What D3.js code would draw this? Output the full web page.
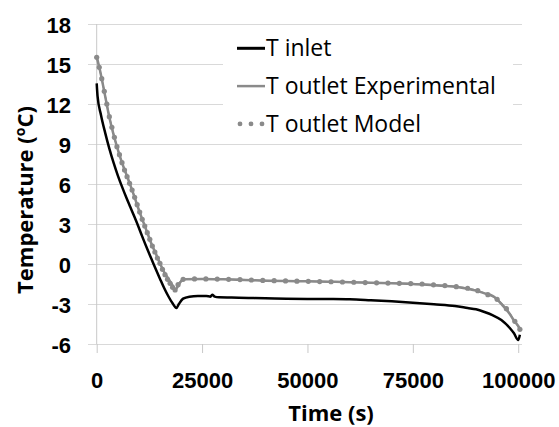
<!DOCTYPE html>
<html lang="en">
<head>
<meta charset="utf-8" />
<script src="https://cdn.jsdelivr.net/npm/d3@7"></script>
<style>
  body { margin: 0; background: #fff; }
  svg { display: block; font-family: 'Open Sans', sans-serif; }
  .tick-label { font-size: 22px; font-weight: bold; fill: #000; }
  .axis-title { font-size: 22px; font-weight: bold; fill: #000; }
  .legend text { font-size: 23px; fill: #000; }
</style>
</head>
<body>
<div id="chart"></div>
<script>
// T inlet
var inletTime = [0, 200, 1000, 2000, 3000, 4000, 5000, 6000, 7000, 8000, 9000, 10000, 11000, 12000, 13000, 14000, 15000, 16000, 17000, 18000, 18900, 19500, 20500, 22000, 24000, 26000, 27000, 27400, 28000, 29000, 32000, 36000, 40000, 45000, 50000, 55000, 60000, 65000, 70000, 75000, 80000, 85000, 88000, 90000, 92000, 94000, 96000, 98000, 99000, 100000, 100400];
var inletTemp = [13.55, 12.6, 11.2, 9.85, 8.65, 7.6, 6.65, 5.8, 5.0, 4.25, 3.5, 2.72, 1.9, 1.12, 0.37, -0.38, -1.1, -1.8, -2.42, -2.95, -3.3, -3.0, -2.6, -2.45, -2.4, -2.4, -2.45, -2.3, -2.45, -2.5, -2.52, -2.55, -2.57, -2.6, -2.62, -2.63, -2.65, -2.72, -2.8, -2.9, -3.02, -3.15, -3.3, -3.4, -3.6, -3.85, -4.2, -4.8, -5.2, -5.7, -5.3];

// T outlet experimental
var expTime = [0, 1000, 2000, 3000, 4000, 5000, 6000, 7000, 8000, 9000, 10000, 11000, 12000, 13000, 14000, 15000, 16000, 17000, 18000, 18600, 19200, 20000, 21000, 25000, 30000, 35000, 40000, 45000, 50000, 55000, 60000, 65000, 70000, 75000, 80000, 85000, 88000, 90000, 92000, 94000, 95000, 96000, 97000, 98000, 99000, 100000, 100500];
var expTemp = [15.55, 14.2, 12.6, 11.0, 9.7, 8.6, 7.6, 6.75, 5.9, 5.0, 4.05, 3.2, 2.35, 1.5, 0.8, 0.05, -0.6, -1.1, -1.6, -1.95, -1.7, -1.3, -1.15, -1.12, -1.15, -1.2, -1.25, -1.28, -1.3, -1.33, -1.36, -1.4, -1.45, -1.5, -1.6, -1.7, -1.85, -2.0, -2.2, -2.4, -2.65, -3.0, -3.35, -3.75, -4.25, -4.65, -4.95];

// T outlet model
var modelTime = [0, 600, 1200, 1800, 2400, 3000, 3600, 4200, 4800, 5400, 6000, 6600, 7200, 7800, 8400, 9000, 9600, 10200, 10800, 11400, 12000, 12600, 13200, 13800, 14400, 15000, 15600, 16200, 16800, 17400, 18000, 18600, 19300, 20500, 23200, 25900, 28600, 31300, 34000, 36700, 39400, 42100, 44800, 47500, 50200, 52900, 55600, 58300, 61000, 63700, 66400, 69100, 71800, 74500, 77200, 79900, 82600, 85300, 88000, 90400, 92800, 95000, 97200, 99200, 100400];
var modelTemp = [15.5, 14.75, 13.9, 12.95, 12.0, 11.05, 10.25, 9.5, 8.8, 8.2, 7.6, 7.05, 6.55, 6.05, 5.55, 5.0, 4.45, 3.9, 3.35, 2.85, 2.35, 1.85, 1.35, 0.9, 0.45, 0.05, -0.4, -0.8, -1.15, -1.45, -1.75, -1.95, -1.55, -1.15, -1.12, -1.12, -1.13, -1.15, -1.17, -1.2, -1.23, -1.25, -1.27, -1.29, -1.3, -1.32, -1.33, -1.35, -1.37, -1.39, -1.41, -1.43, -1.45, -1.47, -1.5, -1.56, -1.62, -1.7, -1.82, -2.0, -2.3, -2.65, -3.35, -4.3, -4.9];

var xTicks = [0, 25000, 50000, 75000, 100000];
var yTicks = [-6, -3, 0, 3, 6, 9, 12, 15, 18];
var seriesNames = ['T inlet', 'T outlet Experimental', 'T outlet Model'];

var width = 559, height = 427;
var plotLeft = 88, plotRight = 522, plotTop = 24, plotBottom = 344;
var gray = '#8a8a8a';

var svg = d3.select('#chart').append('svg')
  .attr('width', width)
  .attr('height', height);

var x = d3.scaleLinear().domain([0, 100900]).range([96.7, plotRight]);
var y = d3.scaleLinear().domain([-6, 18]).range([plotBottom, plotTop]);

// horizontal gridlines with outside ticks
var yAxis = svg.append('g')
  .attr('transform', 'translate(' + plotLeft + ',0)')
  .call(d3.axisLeft(y).tickValues(yTicks).tickSize(-(plotRight - plotLeft)).tickPadding(0).tickFormat(''));
yAxis.select('.domain').remove();
yAxis.selectAll('line').attr('stroke', '#d9d9d9');

yAxis.selectAll('.tick').append('text')
  .attr('class', 'tick-label')
  .attr('x', -17)
  .attr('y', 8)
  .attr('text-anchor', 'end')
  .text(function(d) { return d; });

// vertical axis line
svg.append('line')
  .attr('x1', x(0)).attr('x2', x(0))
  .attr('y1', y(18)).attr('y2', y(-6))
  .attr('stroke', '#c8c8c8');

var xAxis = svg.append('g')
  .attr('transform', 'translate(0,' + plotBottom + ')')
  .call(d3.axisBottom(x).tickValues(xTicks).tickSize(9).tickFormat(''));
xAxis.select('.domain').remove();
xAxis.selectAll('line').attr('stroke', '#c8c8c8');
xAxis.selectAll('.tick').append('text')
  .attr('class', 'tick-label')
  .attr('y', 44)
  .attr('text-anchor', 'middle')
  .text(function(d) { return d; });

// axis titles
svg.append('text')
  .attr('class', 'axis-title')
  .attr('x', 331)
  .attr('y', 421)
  .attr('text-anchor', 'middle')
  .text('Time (s)');

var yt = svg.append('text')
  .attr('class', 'axis-title')
  .attr('transform', 'translate(33,200) rotate(-90)')
  .attr('text-anchor', 'middle');
yt.append('tspan').text('Temperature (');
yt.append('tspan').attr('font-size', '14px').attr('dy', -8).text('o');
yt.append('tspan').attr('dy', 8).text('C)');

// lines
var line = d3.line()
  .x(function(d) { return x(d[0]); })
  .y(function(d) { return y(d[1]); })
  .curve(d3.curveMonotoneX);

var inlet = d3.zip(inletTime, inletTemp);
var exp = d3.zip(expTime, expTemp);
var model = d3.zip(modelTime, modelTemp);

svg.append('path')
  .datum(exp)
  .attr('d', line)
  .attr('fill', 'none')
  .attr('stroke', gray)
  .attr('stroke-width', 2.5);

svg.append('path')
  .datum(model)
  .attr('d', line)
  .attr('fill', 'none')
  .attr('stroke', gray)
  .attr('stroke-width', 1.5);

svg.selectAll('.dot')
  .data(model)
  .enter().append('circle')
  .attr('class', 'dot')
  .attr('cx', function(d) { return x(d[0]); })
  .attr('cy', function(d) { return y(d[1]); })
  .attr('r', 2.6)
  .attr('fill', gray);

svg.append('path')
  .datum(inlet)
  .attr('d', line)
  .attr('fill', 'none')
  .attr('stroke', '#000')
  .attr('stroke-width', 2.5);

// legend
var legend = svg.append('g').attr('class', 'legend');
legend.append('rect')
  .attr('x', 223).attr('y', 30)
  .attr('width', 290).attr('height', 110)
  .attr('fill', '#fff');

var rows = legend.selectAll('.row')
  .data(seriesNames)
  .enter().append('g')
  .attr('class', 'row')
  .attr('transform', function(d, i) { return 'translate(237,' + (48.3 + i * 37.8) + ')'; });

rows.each(function(d, i) {
  var g = d3.select(this);
  if (i < 2) {
    g.append('line')
      .attr('x1', 0).attr('x2', 28)
      .attr('stroke', i === 0 ? '#000' : gray)
      .attr('stroke-width', i === 0 ? 3 : 2.5);
  } else {
    [3, 14, 25].forEach(function(cx) {
      g.append('circle').attr('cx', cx).attr('r', 2.4).attr('fill', gray);
    });
  }
  g.append('text')
    .attr('x', 29)
    .attr('y', 8)
    .text(d);
});
</script>
</body>
</html>
